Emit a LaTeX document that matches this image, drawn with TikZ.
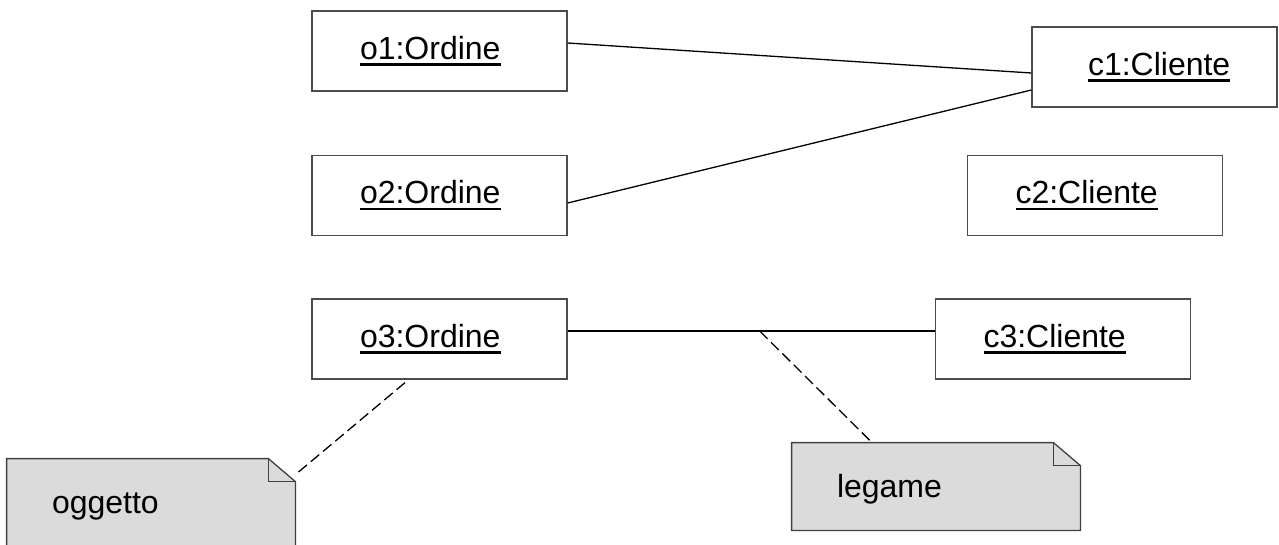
\documentclass[tikz,border=0pt]{standalone}
\usepackage{fontspec}
\setmainfont{Liberation Sans}
\usetikzlibrary{backgrounds}
\def\objname#1{\setbox0\hbox{#1}\rlap{\usebox0}\rule[-3.4pt]{\wd0}{1.3pt}}

\tikzset{
	obj/.style={draw=black!70, line width=0.65pt, minimum width=127.5pt, minimum height=40pt, inner xsep=24pt, text width=79.5pt, align=left, font=\fontsize{16}{19}\selectfont},
	note/.style={minimum width=144pt, minimum height=43.5pt, inner xsep=22.5pt, text width=99pt, text height=14.5pt, text depth=3.4pt, align=left, font=\fontsize{16}{19}\selectfont},
	notebody/.style={fill=black!14, draw=black!75, line width=0.65pt, line join=miter},
	link/.style={line width=0.65pt},
	anchorline/.style={line width=0.65pt, dash pattern=on 5.5pt off 2.5pt},
}

\begin{document}
\begin{tikzpicture}[x=0.5pt, y=-0.5pt]
			%%%%% START %%%%%
			\useasboundingbox (0, 0) rectangle (1279, 545);
			
			\node[obj] (o1) at (439.5, 51) {\objname{o1:Ordine}};
			\node[obj] (o2) at (439.5, 195.5) {\objname{o2:Ordine}};
			\node[obj] (o3) at (439.5, 339) {\objname{o3:Ordine}};
			
			\node[obj, minimum width=122.5pt, inner xsep=28pt, text width=66.5pt] (c1) at (1154.5, 67) {\objname{c1:Cliente}};
			\node[obj] (c2) at (1095, 195.5) {\objname{c2:Cliente}};
			\node[obj] (c3) at (1063, 339) {\objname{c3:Cliente}};
			
			\node[note] (oggetto) at (151, 502.5) {oggetto};
			\node[note] (legame) at (936, 486.5) {legame};
			
			% notes with folded corner
			\begin{scope}[on background layer]
				\foreach \n in {oggetto, legame} {
					\draw[notebody] (\n.north west) -- ([xshift=-13.5pt]\n.north east) -- ([yshift=-11.5pt]\n.north east) -- (\n.south east) -- (\n.south west) -- cycle;
					\draw[notebody, fill=none] ([xshift=-13.5pt]\n.north east) |- ([yshift=-11.5pt]\n.north east);
				}
			\end{scope}
			
			% links
			\draw[link] ([yshift=4pt]o1.east) -- ([yshift=-3pt]c1.west);
			\draw[link] ([yshift=-3.75pt]o2.east) -- ([yshift=-11.5pt]c1.west);
			\draw[link] ([yshift=4pt]o3.east) -- coordinate[pos=0.523] (lnk) ([yshift=4pt]c3.west);
			
			\draw[anchorline] (lnk) -- ([xshift=-32pt]legame.north);
			\draw[anchorline] ([xshift=-17.25pt, yshift=-1.5pt]o3.south) -- ([yshift=-8pt]oggetto.north east);
			%%%%% END %%%%%
\end{tikzpicture}
\end{document}
